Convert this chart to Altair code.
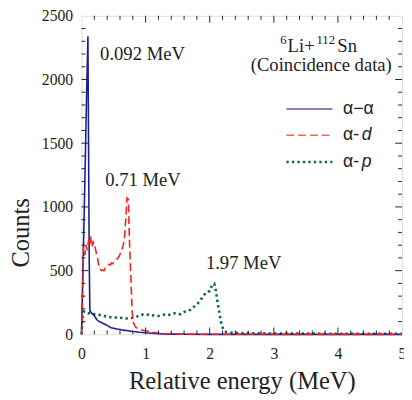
import altair as alt
import pandas as pd

# alpha-alpha (solid blue)
aa_x = [0, 0.02, 0.04, 0.06, 0.08, 0.10, 0.12, 0.13, 0.16, 0.18, 0.20, 0.22, 0.24, 0.26, 0.28, 0.30,
        0.34, 0.38, 0.42, 0.46, 0.50, 0.55, 0.60, 0.65, 0.70, 0.75, 0.80, 0.85, 0.90, 0.95, 1.0,
        1.1, 1.2, 1.3, 1.4, 1.6, 2.0, 3.0, 4.0, 5.0]
aa_y = [0, 450, 900, 1400, 1900, 2340, 600, 185, 165, 155, 148, 130, 115, 105, 100, 95,
        85, 75, 65, 52, 48, 42, 38, 33, 30, 27, 22, 20, 17, 15, 12,
        8, 5, 3, 2, 1, 0, 0, 0, 0]

# alpha-d (dashed red)
ad_x = [0, 0.01, 0.02, 0.03, 0.05, 0.07, 0.09, 0.11, 0.13, 0.15, 0.17, 0.19, 0.21, 0.23, 0.25, 0.27,
        0.29, 0.31, 0.33, 0.35, 0.37, 0.39, 0.41, 0.43, 0.45, 0.47, 0.49, 0.51, 0.53, 0.55, 0.57,
        0.59, 0.61, 0.63, 0.65, 0.67, 0.69, 0.71, 0.73, 0.75, 0.77, 0.79, 0.81, 0.83, 0.85, 0.88,
        0.92, 0.96, 1.0, 1.05, 1.1, 1.2, 1.3, 1.4, 1.6, 2.0, 3.0, 4.0, 5.0]
ad_y = [0, 150, 400, 690, 620, 700, 660, 740, 700, 770, 700, 720, 690, 640, 600, 540,
        510, 500, 505, 500, 520, 530, 540, 550, 545, 560, 555, 570, 580, 590, 600,
        615, 640, 660, 700, 750, 900, 1070, 1060, 700, 450, 180, 90, 70, 55, 45,
        38, 33, 28, 22, 16, 10, 6, 4, 2, 1, 0, 0, 0]

# alpha-p (dotted green)
ap_x = [0, 0.01, 0.02, 0.04, 0.06, 0.08, 0.10, 0.14, 0.18, 0.22, 0.26, 0.30, 0.35, 0.40, 0.45,
        0.50, 0.55, 0.60, 0.65, 0.70, 0.75, 0.80, 0.85, 0.90, 0.95, 1.0, 1.05, 1.10, 1.15, 1.20,
        1.25, 1.30, 1.35, 1.40, 1.45, 1.50, 1.55, 1.60, 1.65, 1.70, 1.75, 1.80, 1.85, 1.90,
        1.95, 2.00, 2.04, 2.07, 2.09, 2.12, 2.15, 2.18, 2.21, 2.25, 2.30, 2.4, 2.5, 2.7, 3.0,
        3.5, 4.0, 4.5, 5.0]
ap_y = [0, 80, 160, 180, 175, 170, 165, 168, 160, 158, 156, 150, 145, 138, 135,
        130, 132, 128, 130, 125, 128, 130, 135, 150, 155, 150, 155, 148, 150, 145,
        150, 155, 150, 160, 165, 160, 158, 175, 188, 192, 215, 235, 265, 300,
        335, 340, 390, 398, 360, 260, 170, 90, 40, 20, 15, 12, 10, 8, 7,
        6, 5, 5, 4]

x_ticks = [0, 1, 2, 3, 4, 5]
y_ticks = [0, 500, 1000, 1500, 2000, 2500]
x_minor = [round(0.2 * i, 1) for i in range(1, 25) if (i % 5) != 0]
y_minor = [100 * i for i in range(1, 25) if (i % 5) != 0]
x_major = [1, 2, 3, 4]
y_major = [500, 1000, 1500, 2000]

W, H = 327, 325
SERIF = "Liberation Serif"
SANS = "Liberation Sans"

xs = alt.Scale(domain=[0, 5], nice=False)
ys = alt.Scale(domain=[0, 2500], nice=False)

df = pd.concat([
    pd.DataFrame({"e": aa_x, "c": aa_y, "s": "aa"}),
    pd.DataFrame({"e": ad_x, "c": ad_y, "s": "ad"}),
    pd.DataFrame({"e": ap_x, "c": ap_y, "s": "ap"}),
])

xaxis = alt.Axis(values=x_ticks, format="d", title="Relative energy (MeV)", grid=False, domain=False,
                 ticks=False, labelFlush=False, labelOverlap=False,
                 labelFont=SERIF, labelFontSize=16, labelColor="#222", labelPadding=12,
                 titleFont=SERIF, titleFontSize=25, titleFontWeight="normal", titleColor="#222",
                 titleY=55, titleBaseline="alphabetic")
yaxis = alt.Axis(values=y_ticks, format="d", title="Counts", grid=False, domain=False, ticks=False,
                 labelFlush=False, labelOverlap=False,
                 labelFont=SERIF, labelFontSize=16, labelColor="#222", labelPadding=9,
                 titleFont=SERIF, titleFontSize=25, titleFontWeight="normal", titleColor="#222",
                 titleX=-54, titleY=221, titleAngle=-90, titleBaseline="alphabetic", titleAlign="center")

base = alt.Chart(df)

green = base.transform_filter(alt.datum.s == "ap").mark_line(
    color="#0b6b35", strokeWidth=2.6, strokeDash=[2.4, 3.2]
).encode(x=alt.X("e:Q", scale=xs, axis=xaxis), y=alt.Y("c:Q", scale=ys, axis=yaxis), order="e:Q")
blue = base.transform_filter(alt.datum.s == "aa").mark_line(
    color="#1c1c96", strokeWidth=1.6
).encode(x=alt.X("e:Q", scale=xs), y=alt.Y("c:Q", scale=ys), order="e:Q")
red = base.transform_filter(alt.datum.s == "ad").mark_line(
    color="#f52222", strokeWidth=1.6, strokeDash=[8, 4]
).encode(x=alt.X("e:Q", scale=xs), y=alt.Y("c:Q", scale=ys), order="e:Q")


# inward ticks on all four sides
def xticks(vals, length):
    d = alt.Chart(pd.DataFrame({"v": vals}))
    bot = d.mark_rule(color="#222", strokeWidth=1).encode(
        x=alt.X("v:Q", scale=xs), y=alt.value(H), y2=alt.value(H - length))
    top = d.mark_rule(color="#222", strokeWidth=1).encode(
        x=alt.X("v:Q", scale=xs), y=alt.value(0), y2=alt.value(length))
    return [bot, top]


def yticks(vals, length):
    d = alt.Chart(pd.DataFrame({"v": vals}))
    lft = d.mark_rule(color="#222", strokeWidth=1).encode(
        y=alt.Y("v:Q", scale=ys), x=alt.value(0), x2=alt.value(length))
    rgt = d.mark_rule(color="#222", strokeWidth=1).encode(
        y=alt.Y("v:Q", scale=ys), x=alt.value(W), x2=alt.value(W - length))
    return [lft, rgt]


ticks = xticks(x_minor, 4) + xticks(x_major, 7) + yticks(y_minor, 4) + yticks(y_major, 7)

# annotations
ann_text = ["0.092 MeV", "0.71 MeV", "1.97 MeV"]
ann_x = [0.29, 0.37, 1.94]
ann_y = [2156, 1162, 512]
ann = alt.Chart(pd.DataFrame({"t": ann_text, "x": ann_x, "y": ann_y})).mark_text(
    font=SERIF, fontSize=19, align="left", baseline="alphabetic", color="#222"
).encode(x=alt.X("x:Q", scale=xs), y=alt.Y("y:Q", scale=ys), text="t:N")

big_t = ["Li+", "Sn"]
big_x = [3.215, 3.99]
big_y = [2217, 2217]
big_l = alt.Chart(pd.DataFrame({"t": big_t, "x": big_x, "y": big_y})).mark_text(
    font=SERIF, fontSize=19, baseline="alphabetic", align="left", color="#222"
).encode(x=alt.X("x:Q", scale=xs), y=alt.Y("y:Q", scale=ys), text="t:N")
big_c = alt.Chart(pd.DataFrame({"t": ["(Coincidence data)"], "x": [3.74], "y": [2064]})).mark_text(
    font=SERIF, fontSize=19, baseline="alphabetic", align="center", color="#222"
).encode(x=alt.X("x:Q", scale=xs), y=alt.Y("y:Q", scale=ys), text="t:N")

sup_t = ["6", "112"]
sup_x = [3.20, 3.665]
sup_y = [2275, 2275]
sup6 = alt.Chart(pd.DataFrame({"t": sup_t[:1], "x": sup_x[:1], "y": sup_y[:1]})).mark_text(
    font=SERIF, fontSize=13, baseline="alphabetic", align="right", color="#222"
).encode(x=alt.X("x:Q", scale=xs), y=alt.Y("y:Q", scale=ys), text="t:N")
sup2 = alt.Chart(pd.DataFrame({"t": sup_t[1:], "x": sup_x[1:], "y": sup_y[1:]})).mark_text(
    font=SERIF, fontSize=13, baseline="alphabetic", align="left", color="#222"
).encode(x=alt.X("x:Q", scale=xs), y=alt.Y("y:Q", scale=ys), text="t:N")

# legend
leg_y = [1768, 1562, 1353]
leg_x0, leg_x1 = 3.196, 3.914
leg_colors = ["#5a5ab8", "#ff6060", "#0b6b35"]
leg_dash = [[1, 0], [8, 4], [2.4, 3.2]]
leg_w = [1.6, 1.6, 2.6]
legend_layers = []
for yy, col, da, sw in zip(leg_y, leg_colors, leg_dash, leg_w):
    legend_layers.append(
        alt.Chart(pd.DataFrame({"x": [leg_x0], "x2": [leg_x1], "y": [yy]})).mark_rule(
            color=col, strokeWidth=sw, strokeDash=da
        ).encode(x=alt.X("x:Q", scale=xs), x2="x2:Q", y=alt.Y("y:Q", scale=ys))
    )
leg_t = ["α−α", "α-", "α-"]
leg_tx = [4.08, 4.08, 4.08]
legend_layers.append(
    alt.Chart(pd.DataFrame({"t": leg_t, "x": leg_tx, "y": leg_y})).mark_text(
        font=SANS, fontSize=18, align="left", baseline="middle", color="#222"
    ).encode(x=alt.X("x:Q", scale=xs), y=alt.Y("y:Q", scale=ys), text="t:N")
)
legend_layers.append(
    alt.Chart(pd.DataFrame({"t": ["d", "p"], "x": [4.37, 4.37], "y": leg_y[1:]})).mark_text(
        font=SANS, fontSize=18, fontStyle="italic", align="left", baseline="middle", color="#222"
    ).encode(x=alt.X("x:Q", scale=xs), y=alt.Y("y:Q", scale=ys), text="t:N")
)

chart = alt.layer(
    green, blue, red, *ticks, ann, big_l, big_c, sup6, sup2, *legend_layers
).properties(
    width=W, height=H,
    autosize=alt.AutoSizeParams(type="none"),
    padding={"left": 75, "top": 4, "right": 2, "bottom": 62},
).configure_view(stroke="#222", strokeWidth=1.2).configure(background="white")

chart.save("out.html", embed_options={"renderer": "svg", "actions": False})
